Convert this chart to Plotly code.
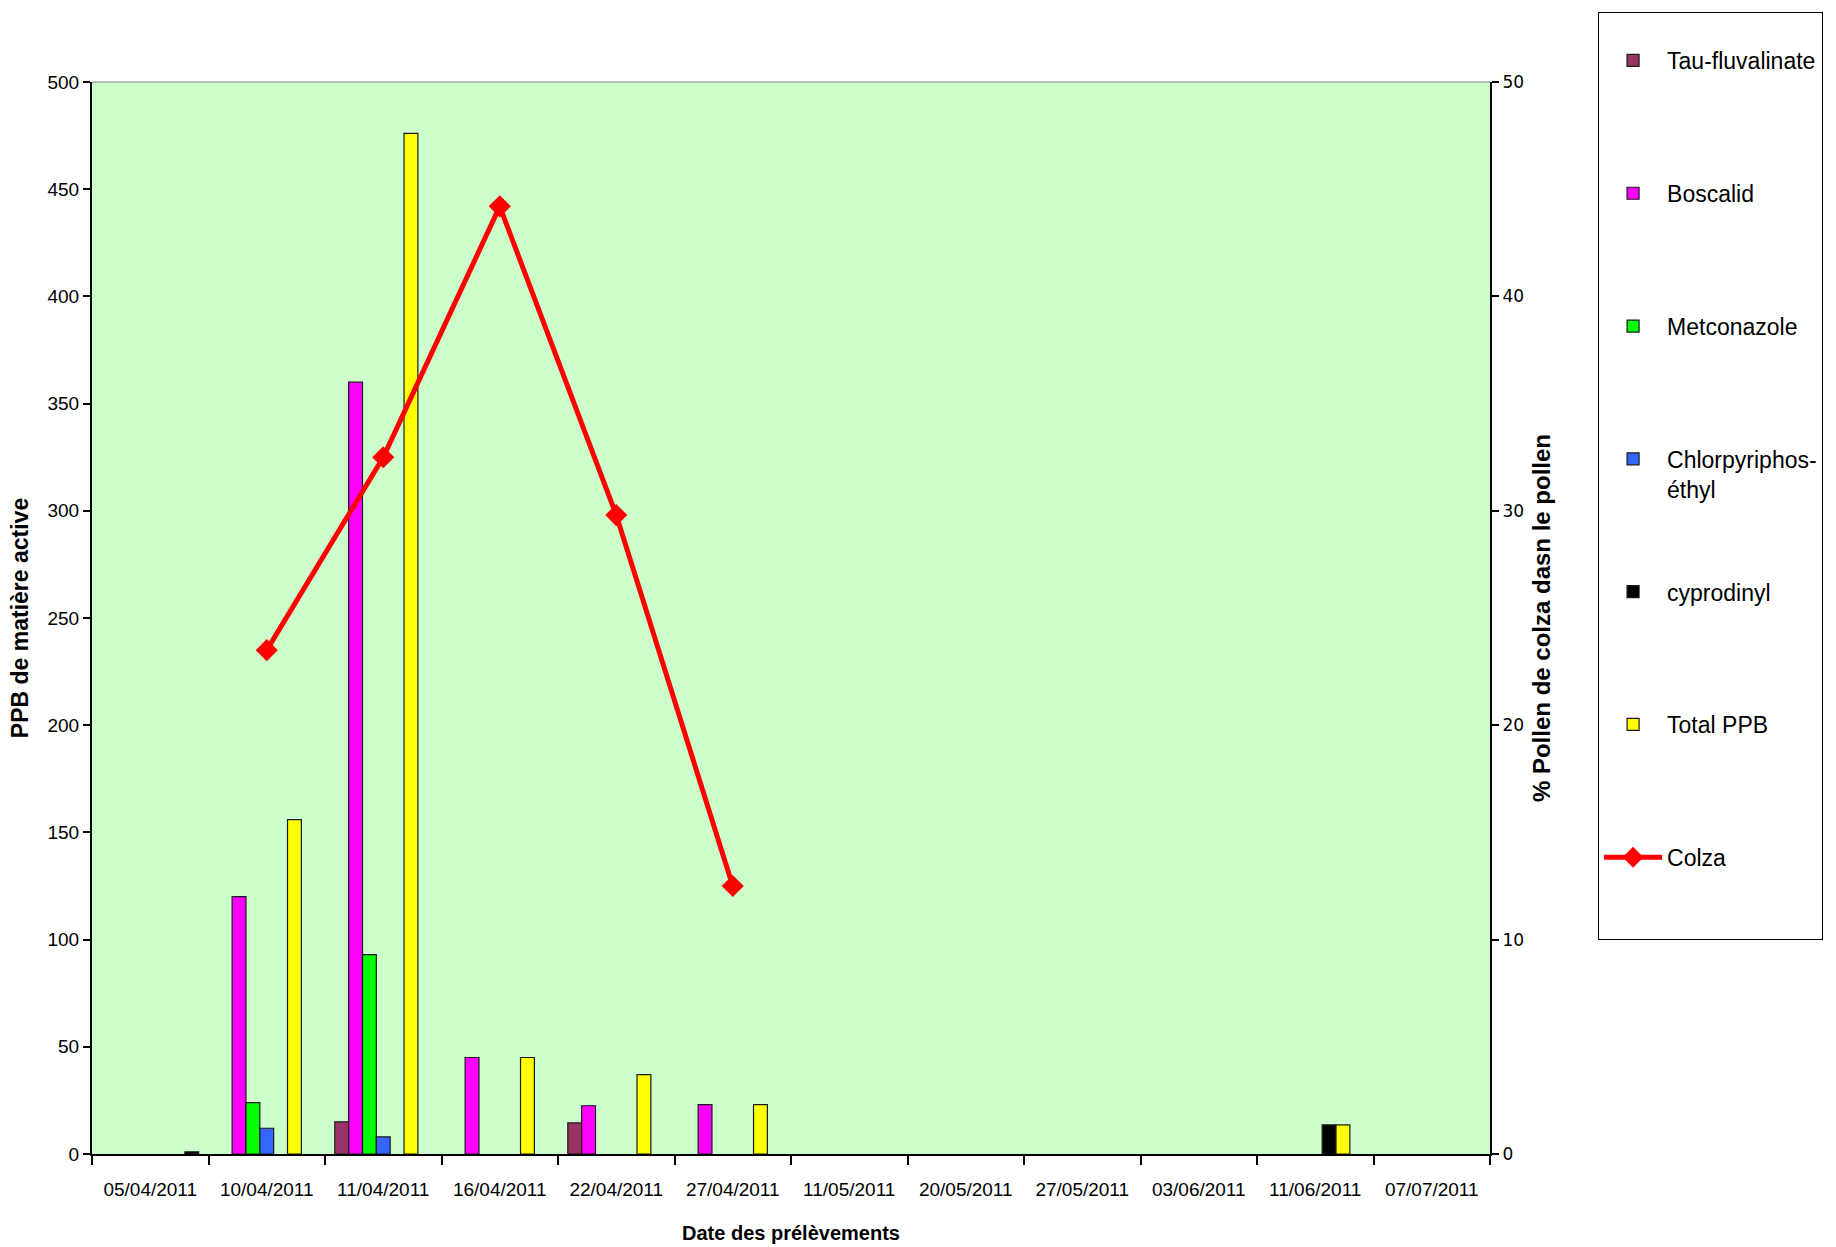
import plotly.graph_objects as go

# Sampling dates (x categories)
dates = ["05/04/2011", "10/04/2011", "11/04/2011", "16/04/2011", "22/04/2011",
         "27/04/2011", "11/05/2011", "20/05/2011", "27/05/2011", "03/06/2011",
         "11/06/2011", "07/07/2011"]

# Residues in pollen (PPB of active substance)
tau_fluvalinate = [None, None, 15, None, 14.5, None, None, None, None, None, None, None]
boscalid = [None, 120, 360, 45, 22.5, 23, None, None, None, None, None, None]
metconazole = [None, 24, 93, None, None, None, None, None, None, None, None, None]
chlorpyriphos = [None, 12, 8, None, None, None, None, None, None, None, None, None]
cyprodinyl = [None, None, None, None, None, None, None, None, None, None, 13.6, None]
total_ppb = [None, 156, 476, 45, 37, 23, None, None, None, None, 13.6, None]
autre = [1, None, None, None, None, None, None, None, None, None, None, None]

# Share of rapeseed pollen (%)
colza = [None, 23.5, 32.5, 44.2, 29.8, 12.5, None, None, None, None, None, None]

FONT = "Liberation Sans, Arial, sans-serif"
PAD = "<br>\u00a0"  # blank second line so every legend entry has the same height

bar_series = [
    ("Tau-fluvalinate" + PAD, tau_fluvalinate, "#993366", True),
    ("Boscalid" + PAD, boscalid, "#FF00FF", True),
    ("Metconazole" + PAD, metconazole, "#00FF00", True),
    ("Chlorpyriphos-<br>éthyl", chlorpyriphos, "#3366FF", True),
    ("cyprodinyl" + PAD, cyprodinyl, "#000000", True),
    ("Total PPB" + PAD, total_ppb, "#FFFF00", True),
    ("Autre", autre, "#000000", False),
]

fig = go.Figure()
for i, (name, vals, color, show) in enumerate(bar_series):
    fig.add_trace(go.Bar(
        x=dates, y=vals, name=name,
        marker=dict(color=color, line=dict(color="#1a1a1a", width=1.2)),
        showlegend=show, legendgroup=f"g{i}",
    ))

fig.add_trace(go.Scatter(
    x=dates, y=colza, name="Colza" + PAD + PAD, yaxis="y2",
    mode="lines+markers", connectgaps=False,
    line=dict(color="#FF0000", width=5),
    marker=dict(symbol="diamond", size=17, color="#FF0000"),
    legendgroup="g7",
))

fig.update_layout(
    width=1836, height=1247,
    margin=dict(l=92, r=346, t=78, b=93),
    paper_bgcolor="white",
    plot_bgcolor="#CCFFCC",
    barmode="group", bargap=0.168, bargroupgap=0,
    font=dict(family=FONT, size=19, color="black"),
    xaxis=dict(
        type="category", tickson="boundaries", range=[-0.5, 11.5],
        automargin=False,
        showline=True, linecolor="black", linewidth=2,
        ticks="outside", ticklen=9, tickcolor="black", tickwidth=2,
        ticklabelstandoff=17,
        tickfont=dict(family=FONT, size=19),
        showgrid=False, zeroline=False,
        title=dict(text="<b>Date des prélèvements</b>", font=dict(family=FONT, size=20), standoff=27),
    ),
    yaxis=dict(
        range=[0, 500], dtick=50, tick0=0, automargin=False,
        showline=True, linecolor="black", linewidth=2,
        ticks="outside", ticklen=7, tickcolor="black", tickwidth=1.5,
        tickfont=dict(family=FONT, size=19),
        showgrid=False, zeroline=False,
        title=dict(text="<b>PPB de matière active</b>", font=dict(family=FONT, size=23), standoff=12),
    ),
    yaxis2=dict(
        range=[0, 50], dtick=10, tick0=0, overlaying="y", side="right",
        automargin=False,
        showline=True, linecolor="black", linewidth=2,
        ticks="outside", ticklen=7, tickcolor="black", tickwidth=1.5,
        tickfont=dict(family="DejaVu Sans, Verdana, sans-serif", size=17),
        showgrid=False, zeroline=False,
        title=dict(text="<b>% Pollen de colza dasn le pollen</b>", font=dict(family=FONT, size=24), standoff=10),
    ),
    legend=dict(
        x=1.0773, y=1.0653, xanchor="left", yanchor="top",
        bgcolor="white", bordercolor="black", borderwidth=1,
        font=dict(family=FONT, size=23, color="black"),
        traceorder="grouped", tracegroupgap=70, valign="top",
        itemwidth=58, maxheight=1247,
        title=dict(text="\u00a0", font=dict(size=20)),
    ),
    shapes=[dict(type="line", xref="paper", yref="paper", x0=0, x1=1, y0=1, y1=1,
                 line=dict(color="#808080", width=1))],
)

fig.write_html("out.html")
